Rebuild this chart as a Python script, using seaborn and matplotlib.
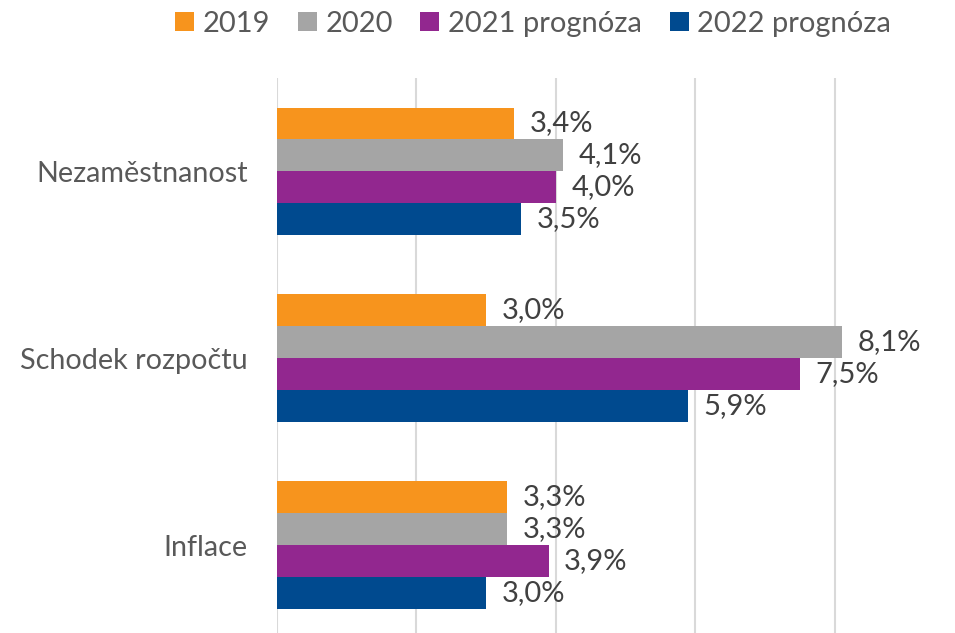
import pandas as pd
import seaborn as sns
import matplotlib.pyplot as plt

# data
categories = ["Nezaměstnanost", "Schodek rozpočtu", "Inflace"]
series = ["2019", "2020", "2021 prognóza", "2022 prognóza"]
values_2019 = [3.4, 3.0, 3.3]
values_2020 = [4.1, 8.1, 3.3]
values_2021 = [4.0, 7.5, 3.9]
values_2022 = [3.5, 5.9, 3.0]
colors = ["#F7941D", "#A5A5A5", "#92278F", "#004A8F"]

rows = []
for name, vals in zip(series, [values_2019, values_2020, values_2021, values_2022]):
    for cat, v in zip(categories, vals):
        rows.append({"kategorie": cat, "rok": name, "hodnota": v})
df = pd.DataFrame(rows)

sns.set_style("white")
plt.rcParams["font.family"] = ["Lato", "DejaVu Sans"]

fig = plt.figure(figsize=(9.55, 6.33), dpi=100)
ax = fig.add_axes([0.29, -0.0087, 0.6573, 0.8855])

sns.barplot(data=df, y="kategorie", x="hodnota", hue="rok", order=categories,
            hue_order=series, palette=colors, width=0.684, gap=0,
            saturation=1, orient="h", ax=ax, legend=True, linewidth=0)

for cont, name in zip(ax.containers, series):
    vals = df[df["rok"] == name]["hodnota"].tolist()
    labs = [f"{v:.1f}".replace(".", ",") + "%" for v in vals]
    ax.bar_label(cont, labels=labs, padding=11, fontsize=21, color="#404040")

ax.set_xlim(0, 9)
ax.set_ylim(2.5, -0.5)
ax.set_xticks([0, 2, 4, 6, 8])
ax.set_xticklabels([])
ax.xaxis.grid(True, color="#D9D9D9", linewidth=1.5)
ax.set_axisbelow(True)
ax.tick_params(axis="both", length=0)
ax.tick_params(axis="y", pad=21, labelsize=20.7, labelcolor="#595959")
ax.set_xlabel("")
ax.set_ylabel("")
for s in ax.spines.values():
    s.set_visible(False)

handles, labels = ax.get_legend_handles_labels()
ax.get_legend().remove()
fig.legend(handles, labels, loc="center", bbox_to_anchor=(533 / 955, 1 - 24 / 633),
           ncol=4, frameon=False, fontsize=21, labelcolor="#595959",
           handlelength=0.65, handleheight=0.65, handletextpad=0.3, columnspacing=0.95)

fig.savefig("out.png", dpi=100)
